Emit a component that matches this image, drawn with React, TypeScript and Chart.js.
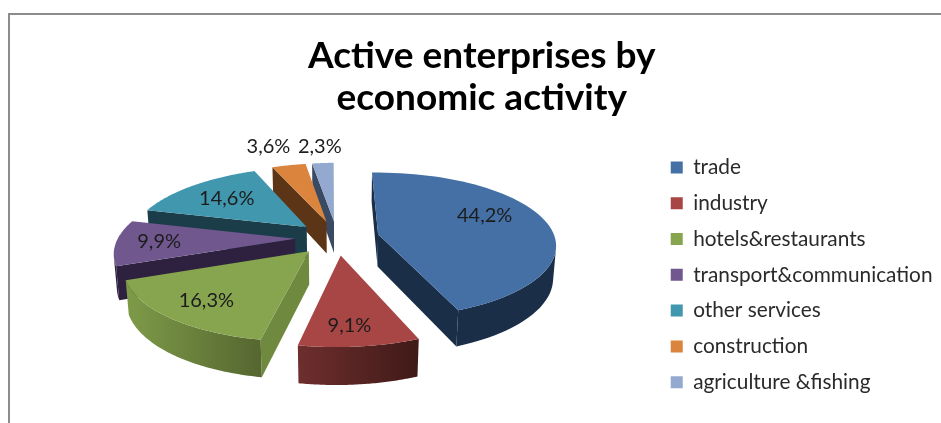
import React, { useEffect, useRef } from "react";
import { Chart, registerables, PieController, ArcElement } from "chart.js";

const categories = [
  "trade",
  "industry",
  "hotels&restaurants",
  "transport&communication",
  "other services",
  "construction",
  "agriculture &fishing",
];
const shares = [44.2, 9.1, 16.3, 9.9, 14.6, 3.6, 2.3];
const topColors = ["#4470A6", "#A74644", "#87A44E", "#70578E", "#4097AE", "#DA843E", "#93A9CF"];
const rimLeftColors = ["#1A2E48", "#6E2E2E", "#7E9B49", "#2E2140", "#1B3D49", "#5C3517", "#3A4A62"];
const rimRightColors = ["#1A2E48", "#3F1A18", "#55662F", "#2E2140", "#1B3D49", "#5C3517", "#3A4A62"];
const cutColors = ["#1A2E48", "#5A2625", "#6F8A3E", "#2E2140", "#1B3D49", "#5C3517", "#3A4A62"];
// Where each percentage sits: distance as a fraction of the radius, and
// position across the slice's sweep.
const labelReach = [0.69, 0.8, 0.76, 0.76, 0.68, 1.42, 1.33];
const labelSweep = [0.43, 0.56, 0.5, 0.5, 0.5, 0.34, 0.5];

// Camera and extrusion used to turn the flat pie into a tilted prism.
const TILT = (24 * Math.PI) / 180;
const CAMERA_DISTANCE = 1076;
const YAW_SKEW = -0.023;
const THICKNESS = 36;
const SHIFT_X = -1.25;
const SHIFT_Y = -37;
const ARC_STEPS = 60;

type Pt = { x: number; y: number };

function project(cx: number, cy: number, X: number, Y: number, Z: number): Pt {
  const toward = Y * Math.cos(TILT) + Z * Math.sin(TILT);
  const s = CAMERA_DISTANCE / (CAMERA_DISTANCE - toward);
  return {
    x: cx + SHIFT_X + (X + YAW_SKEW * Y) * s,
    y: cy + SHIFT_Y + (Y * Math.sin(TILT) - Z * Math.cos(TILT)) * s,
  };
}

function signedArea(p: Pt[]) {
  let a = 0;
  p.forEach((q, i) => {
    const n = p[(i + 1) % p.length];
    a += q.x * n.y - n.x * q.y;
  });
  return a;
}

function tracePolygon(ctx: CanvasRenderingContext2D, p: Pt[]) {
  ctx.moveTo(p[0].x, p[0].y);
  for (let i = 1; i < p.length; i++) ctx.lineTo(p[i].x, p[i].y);
  ctx.closePath();
}

class PrismArc extends ArcElement {
  static id = "prismArc";

  draw(ctx: CanvasRenderingContext2D) {
    const { x, y, startAngle, endAngle, outerRadius } = this as any;
    const index: number = (this as any).$index;
    const mid = (startAngle + endAngle) / 2;
    const off = (this as any).options.offset || 0;
    const ox = Math.cos(mid) * off;
    const oy = Math.sin(mid) * off;
    const at = (a: number, r: number, z: number) =>
      project(x, y, ox + Math.cos(a) * r, oy + Math.sin(a) * r, z);

    const angles: number[] = [];
    for (let i = 0; i <= ARC_STEPS; i++) {
      angles.push(startAngle + ((endAngle - startAngle) * i) / ARC_STEPS);
    }

    ctx.save();
    // Flat cut faces running from the apex to the rim.
    const cuts: [number, boolean][] = [
      [startAngle, true],
      [endAngle, false],
    ];
    cuts.forEach(([a, fromApex]) => {
      const rimTop = at(a, outerRadius, 0);
      const rimBottom = at(a, outerRadius, -THICKNESS);
      const apexTop = at(a, 0, 0);
      const apexBottom = at(a, 0, -THICKNESS);
      const quad = fromApex
        ? [apexTop, rimTop, rimBottom, apexBottom]
        : [rimTop, apexTop, apexBottom, rimBottom];
      if (signedArea(quad) < 0) {
        ctx.beginPath();
        tracePolygon(ctx, quad);
        ctx.fillStyle = cutColors[index];
        ctx.fill();
      }
    });

    // Outer rim: keep only the strips that face the camera.
    ctx.beginPath();
    let minX = Infinity;
    let maxX = -Infinity;
    for (let i = 0; i < ARC_STEPS; i++) {
      const quad = [
        at(angles[i], outerRadius, 0),
        at(angles[i + 1], outerRadius, 0),
        at(angles[i + 1], outerRadius, -THICKNESS),
        at(angles[i], outerRadius, -THICKNESS),
      ];
      if (signedArea(quad) < 0) {
        tracePolygon(ctx, quad);
        quad.forEach((q) => {
          minX = Math.min(minX, q.x);
          maxX = Math.max(maxX, q.x);
        });
      }
    }
    if (maxX > minX) {
      const shade = ctx.createLinearGradient(minX, 0, maxX, 0);
      shade.addColorStop(0, rimLeftColors[index]);
      shade.addColorStop(1, rimRightColors[index]);
      ctx.fillStyle = shade;
      ctx.fill();
    }

    // Top face.
    ctx.beginPath();
    const top = [at(startAngle, 0, 0), ...angles.map((a) => at(a, outerRadius, 0))];
    tracePolygon(ctx, top);
    ctx.fillStyle = (this as any).options.backgroundColor;
    ctx.fill();
    ctx.restore();
  }
}

class PrismPieController extends PieController {
  static id = "prismPie";
  static defaults = { dataElementType: "prismArc" };

  // Paint the farthest slices first so nearer ones cover them.
  draw() {
    const ctx = this.chart.ctx;
    const arcs = [...this.getMeta().data] as any[];
    arcs.forEach((arc, i) => (arc.$index = i));
    const depth = (arc: any) => Math.sin((arc.startAngle + arc.endAngle) / 2);
    arcs.sort((a, b) => depth(a) - depth(b));
    arcs.forEach((arc) => arc.draw(ctx));
  }
}

const sliceLabels = {
  id: "sliceLabels",
  afterDatasetsDraw(chart: Chart) {
    const ctx = chart.ctx;
    const arcs = chart.getDatasetMeta(0).data as any[];
    ctx.save();
    ctx.font = "20px Lato, sans-serif";
    ctx.fillStyle = "#1c1c1c";
    ctx.textAlign = "center";
    ctx.textBaseline = "middle";
    arcs.forEach((arc, i) => {
      const mid = (arc.startAngle + arc.endAngle) / 2;
      const off = arc.options.offset;
      const a = arc.startAngle + (arc.endAngle - arc.startAngle) * labelSweep[i];
      const r = arc.outerRadius * labelReach[i];
      const p = project(
        arc.x,
        arc.y,
        Math.cos(mid) * off + Math.cos(a) * r,
        Math.sin(mid) * off + Math.sin(a) * r,
        0
      );
      ctx.fillText(shares[i].toFixed(1).replace(".", ",") + "%", p.x, p.y);
    });
    ctx.restore();
  },
};

Chart.register(...registerables, PrismArc, PrismPieController);

export default function App() {
  const ref = useRef<HTMLCanvasElement>(null);

  useEffect(() => {
    const chart = new Chart(ref.current!, {
      type: "prismPie" as any,
      data: {
        labels: categories,
        datasets: [
          {
            data: shares,
            backgroundColor: topColors,
            borderWidth: 0,
            offset: 42,
            hoverOffset: 0,
          } as any,
        ],
      },
      options: {
        responsive: false,
        animation: false,
        events: [],
        rotation: -1.6,
        radius: 177,
        layout: { padding: { left: 21, right: -1.5, top: 0, bottom: 0 } },
        plugins: {
          title: {
            display: true,
            text: ["Active enterprises by", "economic activity"],
            color: "#000",
            font: { family: "Lato, sans-serif", size: 37, weight: "bold", lineHeight: 1.13 },
            padding: { top: 35, bottom: 8 },
          },
          legend: {
            position: "right",
            fullSize: false,
            labels: {
              boxWidth: 12,
              boxHeight: 12,
              padding: 15,
              color: "#2a2a2a",
              font: { family: "Lato, sans-serif", size: 20.8 },
            },
          },
          tooltip: { enabled: false },
        },
      } as any,
      plugins: [sliceLabels],
    });
    return () => chart.destroy();
  }, []);

  return (
    <div style={{ position: "fixed", inset: 0, overflow: "hidden", background: "#fff" }}>
      <canvas ref={ref} width={941} height={423} style={{ display: "block" }} />
      <div
        style={{
          position: "absolute",
          left: 8,
          top: 13,
          right: 0,
          bottom: 0,
          borderLeft: "2px solid #8C8C8C",
          borderTop: "2px solid #8C8C8C",
        }}
      />
    </div>
  );
}
